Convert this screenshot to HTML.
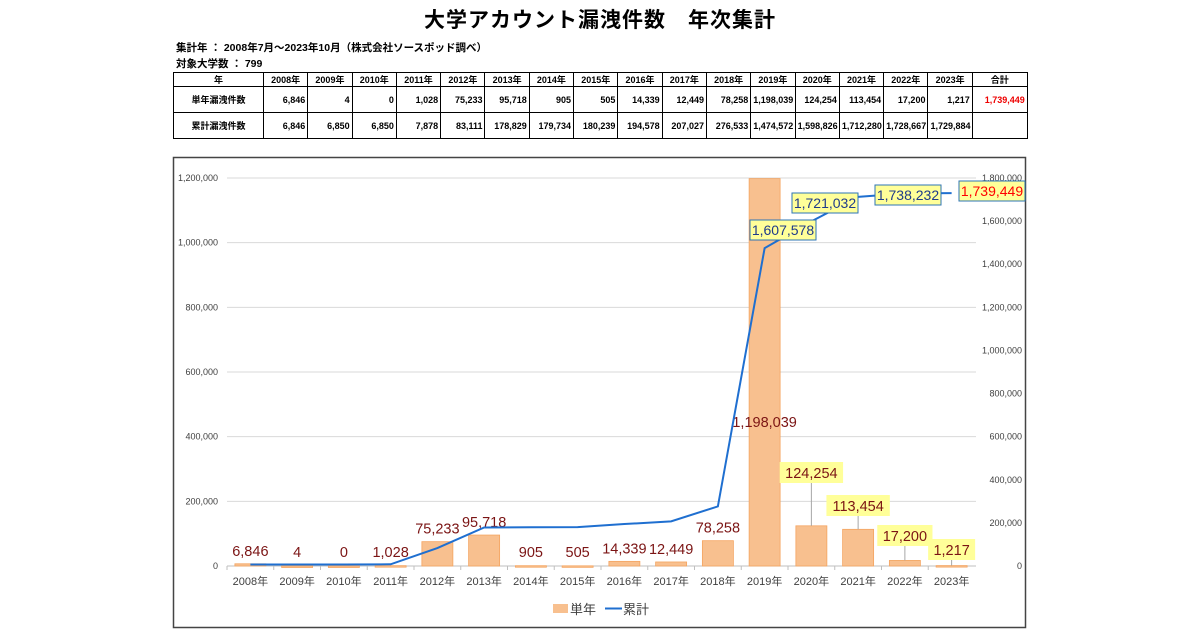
<!DOCTYPE html>
<html><head><meta charset="utf-8">
<style>
body{margin:0;width:1200px;height:630px;background:#fff;font-family:"Liberation Sans","Noto Sans CJK JP",sans-serif;position:relative;overflow:hidden}
.title{position:absolute;left:0;width:1200px;top:4px;text-align:center;font-size:21px;font-weight:bold;letter-spacing:1px}
.meta{position:absolute;left:176px;font-size:10.5px;font-weight:bold}
table{position:absolute;left:173px;top:72px;border-collapse:collapse;font-size:9px;font-weight:bold;table-layout:fixed;width:854px}
td{border:1px solid #000;padding:0 2px;text-align:right;overflow:hidden;white-space:nowrap}
td.h{text-align:center}
tr.r0 td{height:13px;text-align:center}
tr.r1 td,tr.r2 td{height:25px}
</style></head><body>
<div class="title">大学アカウント漏洩件数　年次集計</div>
<div class="meta" style="top:40px">集計年 ： 2008年7月～2023年10月（株式会社ソースポッド調べ）</div>
<div class="meta" style="top:56px">対象大学数 ： 799</div>
<table>
<colgroup id="cg"><col style="width:90px"></colgroup>
<tr class="r0" id="hr"><td class="h">年</td></tr>
<tr class="r1" id="r1"><td class="h">単年漏洩件数</td></tr>
<tr class="r2" id="r2"><td class="h">累計漏洩件数</td></tr>
</table>
<svg id="chart" width="1200" height="630" style="position:absolute;left:0;top:0"></svg>
<script>
const years=["2008年","2009年","2010年","2011年","2012年","2013年","2014年","2015年","2016年","2017年","2018年","2019年","2020年","2021年","2022年","2023年"];
const single=[6846,4,0,1028,75233,95718,905,505,14339,12449,78258,1198039,124254,113454,17200,1217];
const cumul=[6846,6850,6850,7878,83111,178829,179734,180239,194578,207027,276533,1474572,1598826,1712280,1728667,1729884];
const cumLabels=["1,607,578","1,721,032","1,738,232","1,739,449"];
const leftTicks=[0,200000,400000,600000,800000,1000000,1200000];
const rightTicks=[0,200000,400000,600000,800000,1000000,1200000,1400000,1600000,1800000];
const total="1,739,449";
const fmt=v=>v.toLocaleString('en-US');
// table
const cg=document.getElementById('cg');
const hr=document.getElementById('hr'),r1=document.getElementById('r1'),r2=document.getElementById('r2');
years.forEach((y,i)=>{
 let col=document.createElement('col');col.style.width='44.3px';cg.appendChild(col);
 let c=document.createElement('td');c.textContent=y;hr.appendChild(c);
 c=document.createElement('td');c.textContent=fmt(single[i]);r1.appendChild(c);
 c=document.createElement('td');c.textContent=fmt(cumul[i]);r2.appendChild(c);
});
{let col=document.createElement('col');col.style.width='55px';cg.appendChild(col);
 let c=document.createElement('td');c.textContent='合計';hr.appendChild(c);
 c=document.createElement('td');c.textContent=total;c.style.color='#e00';r1.appendChild(c);
 c=document.createElement('td');r2.appendChild(c);}
// chart
const NS='http://www.w3.org/2000/svg';const svg=document.getElementById('chart');
function mk(t,a,txt){const e=document.createElementNS(NS,t);for(const k in a)e.setAttribute(k,a[k]);if(txt!=null)e.textContent=txt;svg.appendChild(e);return e;}
const x0=227,step=46.75,y0=566;
const yL=v=>y0-v/1200000*388;
const yR=v=>y0-v/1800000*388;
const cx=i=>x0+step*(i+0.5);
let e=mk('rect',{x:173.5,y:157.5,width:852,height:470,fill:'none',stroke:'#444','stroke-width':1.5});

leftTicks.forEach(t=>{
 e=mk('line',{x1:x0,x2:976,y1:yL(t),y2:yL(t),stroke:'#d9d9d9'});
 
 e=mk('text',{x:218,y:yL(t)+3,'text-anchor':'end','font-size':9,fill:'#404040'},fmt(t));
 
});
rightTicks.forEach(t=>{
 e=mk('text',{x:1022,y:yR(t)+3,'text-anchor':'end','font-size':9,fill:'#404040'},fmt(t));
 
});
e=mk('line',{x1:x0,x2:976,y1:y0,y2:y0,stroke:'#bfbfbf'});

years.forEach((y,i)=>{
 const h=y0-yL(single[i]);
 e=mk('rect',{x:cx(i)-15.5,y:yL(single[i]),width:31,height:Math.max(h,1.5),fill:'#f8c08f',stroke:'#f4a460','stroke-width':0.8});
 
 e=mk('line',{x1:x0+step*i,x2:x0+step*i,y1:y0,y2:y0+4,stroke:'#bfbfbf'});
 
 e=mk('text',{x:cx(i),y:585,'text-anchor':'middle','font-size':11,fill:'#404040'},y);
 
});
// single labels
years.forEach((y,i)=>{
 let ly=Math.min(yL(single[i])-8,557);
 let box=false;
 if(i==11) ly=427;
 if(i>=12){box=true;ly=[478,511,541,555][i-12];}
 const txt=fmt(single[i]);
 if(box){
  const w=txt.length*8.2+6;
  e=mk('line',{x1:cx(i),x2:cx(i),y1:ly+5,y2:yL(single[i]),stroke:'#a6a6a6'});
  
  e=mk('rect',{x:cx(i)-w/2,y:ly-16,width:w,height:21,fill:'#ffff99'});
  
 }
 e=mk('text',{x:cx(i),y:ly,'text-anchor':'middle','font-size':14.5,fill:'#7b1414'},txt);
 
});
// line
e=mk('polyline',{points:cumul.map((v,i)=>cx(i)+','+yR(v)).join(' '),fill:'none',stroke:'#1f6fd0','stroke-width':2});

const boxes=[[783,230],[825,203],[908,195],[992,191]];
cumLabels.forEach((t,k)=>{
 const [bx,by]=boxes[k];const w=66;
 e=mk('rect',{x:bx-w/2,y:by-10,width:w,height:20,fill:'#ffff99',stroke:'#2e75b6'});
 
 e=mk('text',{x:bx,y:by+5,'text-anchor':'middle','font-size':14,fill:k==3?'#ff0000':'#1f3b8a'},t);
 
});
// legend
e=mk('rect',{x:553,y:604,width:15,height:9,fill:'#f8c08f'});

e=mk('text',{x:570,y:614,'font-size':13,fill:'#404040'},'単年');

e=mk('line',{x1:605,x2:622,y1:608.5,y2:608.5,stroke:'#1f6fd0','stroke-width':2});

e=mk('text',{x:623,y:614,'font-size':13,fill:'#404040'},'累計');

</script>
</body></html>
